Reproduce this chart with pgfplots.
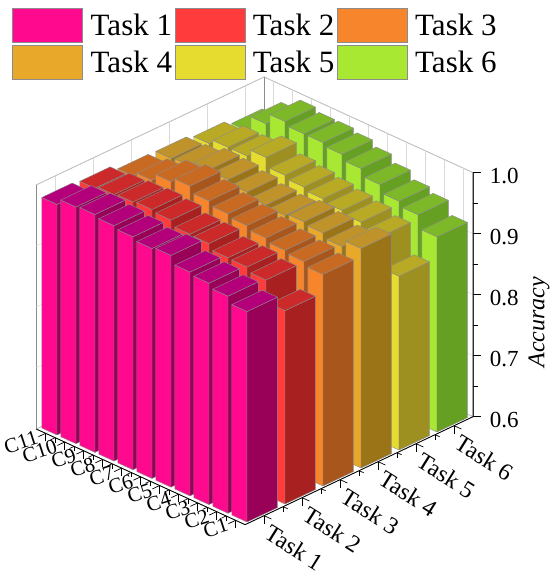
\documentclass[border=0pt]{standalone}
\usepackage{fontspec}
\setmainfont{Liberation Serif}
\usepackage{pgfplots}
\pgfplotsset{compat=1.18}
\usepackage{pgfplotstable}

\definecolor{f1}{HTML}{FF0A8F}\definecolor{t1}{HTML}{B3007A}\definecolor{s1}{HTML}{990058}
\definecolor{f2}{HTML}{FF3B3B}\definecolor{t2}{HTML}{CC2A2A}\definecolor{s2}{HTML}{A82020}
\definecolor{f3}{HTML}{F7852B}\definecolor{t3}{HTML}{C96A22}\definecolor{s3}{HTML}{A8561C}
\definecolor{f4}{HTML}{E8A92A}\definecolor{t4}{HTML}{C0922A}\definecolor{s4}{HTML}{9C7418}
\definecolor{f5}{HTML}{E6DC30}\definecolor{t5}{HTML}{B8AA25}\definecolor{s5}{HTML}{9E9020}
\definecolor{f6}{HTML}{A8E832}\definecolor{t6}{HTML}{7CB828}\definecolor{s6}{HTML}{66A022}
\definecolor{edge}{HTML}{8C8C8C}

% accuracy per class (rows C1..C11) and task (columns)
\pgfplotstableread{
c  t1    t2    t3    t4    t5    t6
1  0.945 0.917 0.947 0.960 0.885 0.920
2  0.956 0.953 0.954 0.949 0.935 0.942
3  0.963 0.960 0.958 0.957 0.945 0.950
4  0.967 0.961 0.964 0.961 0.950 0.963
5  0.980 0.970 0.970 0.957 0.955 0.975
6  0.977 0.971 0.975 0.960 0.960 0.984
7  0.982 0.980 0.982 0.967 0.965 0.989
8  0.986 0.983 0.992 0.973 0.980 0.989
9  0.990 0.981 0.985 0.975 0.968 0.995
10 0.988 0.979 0.973 0.967 0.968 0.977
11 0.978 0.975 0.966 0.965 0.960 0.952
}\acc

\begin{document}
\begin{tikzpicture}
\begin{pgfinterruptboundingbox}
\begin{axis}[
  x={(38pt,18pt)}, y={(-19pt,8.7pt)}, z={(0pt,610pt)},
  xmin=0.5, xmax=6.5, ymin=0.5, ymax=11.5, zmin=0.6, zmax=1.0,
  clip=false,
  grid=major,
  major grid style={gray!30, line width=0.4pt},
  axis line style={edge, line width=0.6pt},
  tick style={black, line width=0.7pt},
  tick align=outside,
  major tick length=8pt, minor tick length=5pt,
  xtick={1,...,6},
  xticklabels={Task 1,Task 2,Task 3,Task 4,Task 5,Task 6},
  minor x tick num=1,
  ytick={1,...,11},
  yticklabels={C1,C2,C3,C4,C5,C6,C7,C8,C9,C10,C11},
  minor y tick num=1,
  ztick={0.6,0.7,0.8,0.9,1.0},
  minor z tick num=0,
  ztick style={draw=none},
  zticklabel={\pgfmathprintnumber[fixed,fixed zerofill,precision=1,assume math mode=true]{\tick}},
  xtick pos=left, ytick pos=left,
  zticklabel pos=right,
  ticklabel style={font=\fontsize{23}{25}\selectfont},
  xticklabel style={rotate=-32, anchor=north west, font=\fontsize{24}{26}\selectfont},
  yticklabel style={rotate=18, anchor=east, inner xsep=1pt, font=\fontsize{21}{23}\selectfont},
  zticklabel style={xshift=6pt},
  zlabel={\textit{Accuracy}},
  zlabel style={font=\fontsize{24}{26}\selectfont, at={([xshift=66pt]axis cs:6.5,0.5,0.755)}, anchor=center},
  legend columns=3,
  legend image code/.code={\draw[#1] (0pt,-16.5pt) rectangle (70pt,17pt);},
  legend style={at={(axis cs:0.5,11.5,1.293)}, anchor=north west, xshift=-27pt,
    draw=none, fill=none, font=\fontsize{31}{32}\selectfont,
    nodes={inner xsep=4pt, inner ysep=1pt},
    row sep=3pt,
    /tikz/every odd column/.append style={column sep=4pt},
    /tikz/every even column/.append style={column sep=-1.5pt}},
]
\foreach \t in {6,5,4,3,2,1}{
  \foreach \c in {11,10,...,1}{
    \pgfmathtruncatemacro\r{\c-1}
    \pgfplotstablegetelem{\r}{t\t}\of\acc
    \let\val\pgfplotsretval
    \pgfmathsetmacro\xa{\t-0.4}
    \pgfmathsetmacro\xb{\t+0.4}
    \pgfmathsetmacro\ya{\c-0.4}
    \pgfmathsetmacro\yb{\c+0.4}
    \edef\cmd{%
      \noexpand\addplot3[forget plot, no marks, draw=edge, line width=0.4pt, fill=f\t]
        coordinates {(\xa,\ya,0.6) (\xa,\yb,0.6) (\xa,\yb,\val) (\xa,\ya,\val) (\xa,\ya,0.6)};
      \noexpand\addplot3[forget plot, no marks, draw=edge, line width=0.4pt, fill=s\t]
        coordinates {(\xa,\ya,0.6) (\xb,\ya,0.6) (\xb,\ya,\val) (\xa,\ya,\val) (\xa,\ya,0.6)};
      \noexpand\addplot3[forget plot, no marks, draw=edge, line width=0.4pt, fill=t\t]
        coordinates {(\xa,\ya,\val) (\xb,\ya,\val) (\xb,\yb,\val) (\xa,\yb,\val) (\xa,\ya,\val)};
    }
    \cmd
  }
}
% ticked axis lines in black
\addplot3[forget plot, no marks, black, line width=0.8pt]
  coordinates {(0.5,11.5,0.6) (0.5,0.5,0.6) (6.5,0.5,0.6) (6.5,0.5,1.0)};
\pgfplotsinvokeforeach{0.6,0.7,0.8,0.9,1.0}{
  \draw[black, line width=0.7pt] (axis cs:6.5,0.5,#1) -- ++(8pt,0pt);}
\pgfplotsinvokeforeach{0.65,0.75,0.85,0.95}{
  \draw[black, line width=0.7pt] (axis cs:6.5,0.5,#1) -- ++(5pt,0pt);}
\addlegendimage{fill=f1, draw=edge}\addlegendentry{Task 1}
\addlegendimage{fill=f2, draw=edge}\addlegendentry{Task 2}
\addlegendimage{fill=f3, draw=edge}\addlegendentry{Task 3}
\addlegendimage{fill=f4, draw=edge}\addlegendentry{Task 4}
\addlegendimage{fill=f5, draw=edge}\addlegendentry{Task 5}
\addlegendimage{fill=f6, draw=edge}\addlegendentry{Task 6}
\coordinate (O) at (axis cs:0.6,0.6,0.6);
\end{axis}
\end{pgfinterruptboundingbox}
\useasboundingbox ([shift={(-247pt,-58pt)}]O) rectangle ([shift={(303pt,522pt)}]O);
\end{tikzpicture}
\end{document}
